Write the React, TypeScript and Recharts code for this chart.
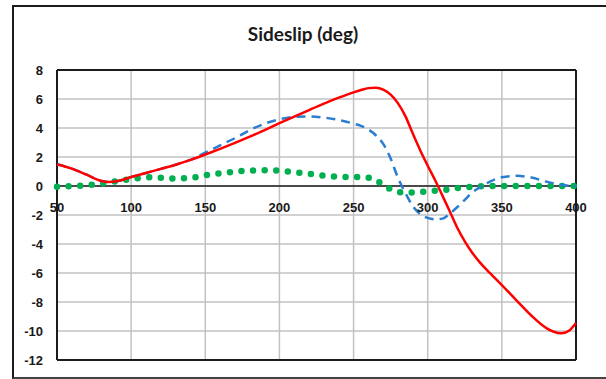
import React from 'react';
import { LineChart, Line, XAxis, YAxis, CartesianGrid, ReferenceLine } from 'recharts';

// x positions of the samples
const xs = [
  50, 60, 70, 80, 85, 90, 100, 110, 120, 130, 140, 150, 160, 170, 180, 190, 200,
  210, 220, 230, 240, 250, 255, 260, 265, 270, 275, 280, 285, 290, 295, 300, 305,
  310, 315, 320, 325, 330, 335, 340, 350, 360, 370, 380, 385, 390, 395, 400,
];

const redValues = [
  1.5, 1.2, 0.78, 0.35, 0.28, 0.32, 0.62, 0.9, 1.18, 1.47, 1.8, 2.17, 2.56, 2.97, 3.4, 3.86, 4.33,
  4.79, 5.24, 5.68, 6.09, 6.46, 6.62, 6.75, 6.78, 6.65, 6.3, 5.7, 4.8, 3.6, 2.45, 1.4, 0.4,
  -0.68, -1.78, -2.9, -3.82, -4.6, -5.25, -5.8, -6.83, -7.9, -8.95, -9.8, -10.05, -10.16, -10.0, -9.45,
];

const blueValues = [
  1.5, 1.2, 0.78, 0.35, 0.28, 0.32, 0.62, 0.9, 1.18, 1.47, 1.8, 2.3, 2.8, 3.3, 3.85, 4.3, 4.6,
  4.77, 4.8, 4.72, 4.55, 4.3, 4.15, 3.9, 3.5, 2.9, 1.9, 0.55, -0.5, -1.4, -1.95, -2.2, -2.3,
  -2.25, -1.9, -1.45, -0.95, -0.45, -0.1, 0.2, 0.6, 0.7, 0.58, 0.3, 0.18, 0.08, 0.02, 0,
];

const greenValues = [
  -0.05, 0, 0.05, 0.18, 0.25, 0.33, 0.47, 0.6, 0.57, 0.51, 0.56, 0.74, 0.88, 0.99, 1.07, 1.08, 1.05,
  0.94, 0.85, 0.72, 0.63, 0.62, 0.61, 0.57, 0.39, 0.1, -0.22, -0.4, -0.48, -0.45, -0.4, -0.38, -0.33,
  -0.28, -0.22, -0.15, -0.1, -0.05, -0.02, 0, 0, 0, 0, 0, 0, 0, 0, 0,
];

const xTicks = [50, 100, 150, 200, 250, 300, 350, 400];
const yTicks = [-12, -10, -8, -6, -4, -2, 0, 2, 4, 6, 8];

const data = xs.map((x, i) => ({
  x,
  red: redValues[i],
  blue: blueValues[i],
  green: greenValues[i],
}));

const W = 606;
const H = 379;
const M = { top: 70, right: 30, left: 0, bottom: 18 };
const X_AXIS_H = 1;
const Y_MIN = -12;
const Y_MAX = 8;
const plotBottom = H - M.bottom - X_AXIS_H;
const plotH = plotBottom - M.top;
// y=0 line inside the plot
const zeroY = plotBottom - ((0 - Y_MIN) / (Y_MAX - Y_MIN)) * plotH;

const tickFont = "'Liberation Sans Narrow', 'Arial Narrow', 'Liberation Sans', sans-serif";
const border = '#1c1c1c';

const renderXTick = (props: any) => {
  const { x, payload } = props;
  return (
    <text x={x} y={zeroY + 21} textAnchor="middle" dominantBaseline="central"
      fontFamily={tickFont} fontWeight={700} fontSize={13} fill="#1a1a1a">
      {payload.value}
    </text>
  );
};

export default function App() {
  return (
    <div style={{ position: 'absolute', left: 0, top: 0, width: W, height: H, overflow: 'hidden', background: '#fff' }}>
      <div style={{
        position: 'absolute', left: 12, top: 5, width: W - 12, height: 370,
        borderTop: '2px solid #1c1c1c', borderLeft: '2px solid #1c1c1c', borderBottom: '2px solid #444',
      }} />
      <div style={{
        position: 'absolute', left: 0, top: 22, width: W, textAlign: 'center',
        fontFamily: 'Lato, sans-serif', fontWeight: 700, fontSize: 19, color: '#1a1a1a',
      }}>
        Sideslip (deg)
      </div>
      <div style={{ position: 'absolute', left: 0, top: 0 }}>
        <LineChart width={W} height={H} data={data} margin={M}>
          <CartesianGrid stroke="#c2c2c2" strokeWidth={1.5} />
          <XAxis dataKey="x" type="number" domain={[50, 400]} ticks={xTicks} height={X_AXIS_H}
            axisLine={false} tickLine={false} tick={renderXTick} interval={0} />
          <YAxis type="number" domain={[Y_MIN, Y_MAX]} ticks={yTicks} width={57}
            axisLine={false} tickLine={false} tickMargin={8} interval={0}
            tick={{ fill: '#1a1a1a', fontSize: 13, fontWeight: 700, fontFamily: tickFont }} />
          <ReferenceLine y={8} stroke={border} strokeWidth={2} />
          <ReferenceLine y={-12} stroke={border} strokeWidth={2} />
          <ReferenceLine x={50} stroke={border} strokeWidth={2} />
          <ReferenceLine x={400} stroke={border} strokeWidth={2} />
          <ReferenceLine y={0} stroke={border} strokeWidth={1.5} />
          <Line type="monotone" dataKey="green" stroke="#00b050" strokeWidth={6.5}
            strokeDasharray="0 11.6" strokeLinecap="round" dot={false} isAnimationActive={false} />
          <Line type="monotone" dataKey="blue" stroke="#2a7dd1" strokeWidth={2.5}
            strokeDasharray="9 6" dot={false} isAnimationActive={false} />
          <Line type="monotone" dataKey="red" stroke="#ff0000" strokeWidth={2.5}
            dot={false} isAnimationActive={false} />
        </LineChart>
      </div>
    </div>
  );
}
